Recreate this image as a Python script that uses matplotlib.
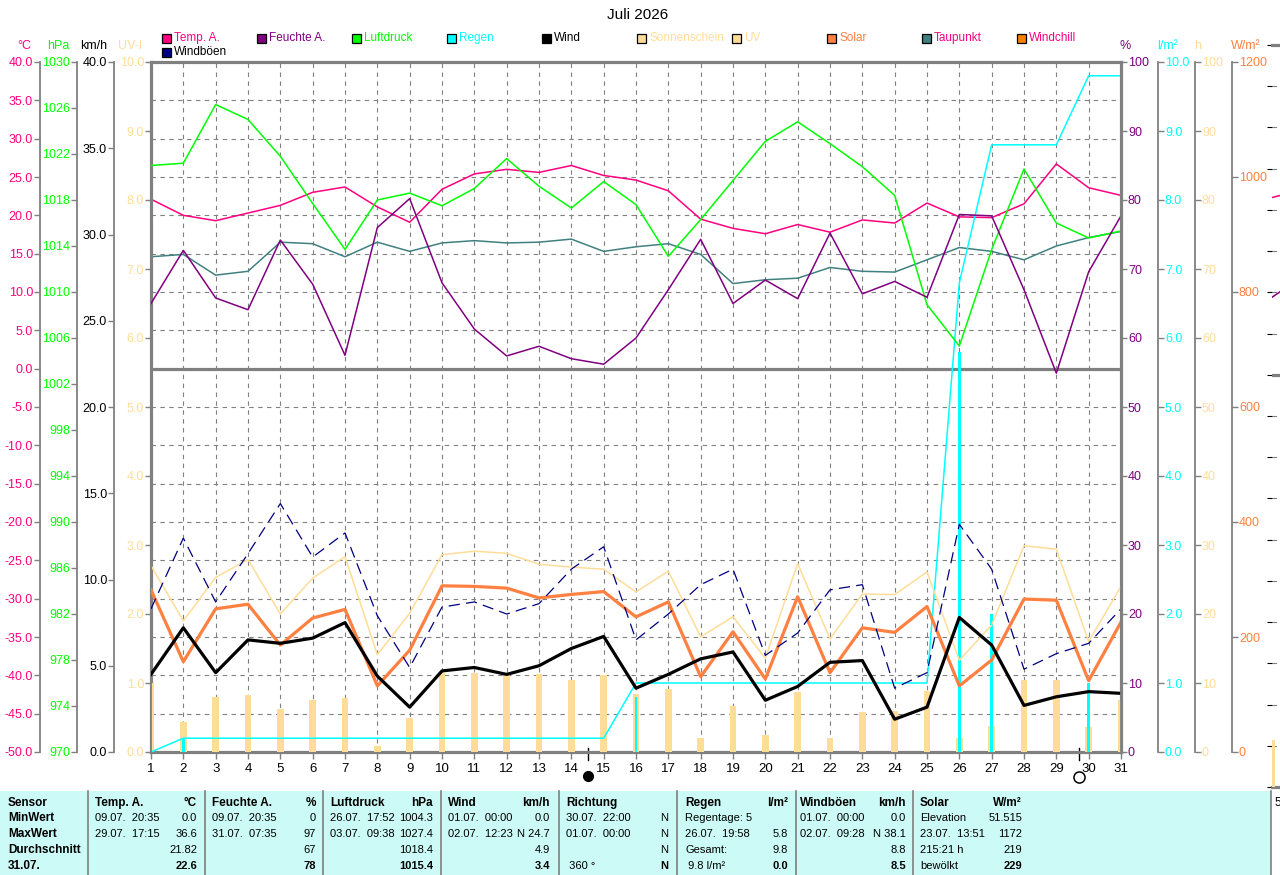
import numpy as np
import matplotlib
matplotlib.use("Agg")
from matplotlib import pyplot as plt
from matplotlib import font_manager
from matplotlib.patches import Rectangle
from matplotlib.lines import Line2D

days = list(range(1, 32))

temp = [22.1, 20.0, 19.3, 20.3, 21.3, 23.0, 23.7, 21.1, 19.1, 23.4, 25.4, 26.0, 25.6, 26.5, 25.2, 24.6,
        23.2, 19.5, 18.3, 17.6, 18.8, 17.8, 19.4, 19.0, 21.6, 19.8, 19.7, 21.5, 26.7, 23.6, 22.6]
dewpoint = [14.6, 14.9, 12.2, 12.7, 16.5, 16.3, 14.6, 16.5, 15.3, 16.4, 16.7, 16.4, 16.5, 16.9, 15.3, 15.9,
            16.3, 14.9, 11.1, 11.6, 11.8, 13.2, 12.7, 12.6, 14.2, 15.8, 15.3, 14.2, 16.0, 17.1, 17.9]
humidity = [65.0, 72.7, 65.8, 64.1, 74.2, 67.8, 57.5, 76.0, 80.2, 68.0, 61.3, 57.4, 58.8, 57.0, 56.2, 60.0,
            67.0, 74.3, 65.0, 68.4, 65.7, 75.2, 66.4, 68.2, 65.9, 77.9, 77.7, 67.0, 54.9, 69.6, 77.7]
pressure = [1021.0, 1021.2, 1026.3, 1025.0, 1021.8, 1017.7, 1013.7, 1018.0, 1018.6, 1017.5, 1019.0,
            1021.6, 1019.2, 1017.3, 1019.6, 1017.6, 1013.1, 1016.3, 1019.7, 1023.1, 1024.8, 1022.9,
            1020.9, 1018.4, 1008.9, 1005.3, 1013.7, 1020.7, 1016.0, 1014.7, 1015.3]
rain_day = [0.0, 0.2, 0.0, 0.0, 0.0, 0.0, 0.0, 0.0, 0.0, 0.0, 0.0, 0.0, 0.0, 0.0, 0.0, 0.8,
            0.0, 0.0, 0.0, 0.0, 0.0, 0.0, 0.0, 0.0, 0.0, 5.8, 2.0, 0.0, 0.0, 1.0, 0.0]
rain_sum = [0.0, 0.2, 0.2, 0.2, 0.2, 0.2, 0.2, 0.2, 0.2, 0.2, 0.2, 0.2, 0.2, 0.2, 0.2, 1.0,
            1.0, 1.0, 1.0, 1.0, 1.0, 1.0, 1.0, 1.0, 1.0, 6.8, 8.8, 8.8, 8.8, 9.8, 9.8]
sunshine = [10.0, 4.4, 7.9, 8.2, 6.3, 7.5, 7.8, 0.8, 5.0, 11.4, 11.5, 11.1, 11.3, 10.4, 11.1, 8.4,
            9.2, 2.0, 6.6, 2.4, 8.7, 2.1, 5.8, 5.9, 8.9, 2.0, 3.8, 10.4, 10.4, 3.6, 7.5]
wind = [4.5, 7.2, 4.6, 6.5, 6.3, 6.6, 7.5, 4.4, 2.6, 4.7, 4.9, 4.5, 5.0, 6.0, 6.7, 3.7,
        4.5, 5.4, 5.8, 3.0, 3.8, 5.2, 5.3, 1.9, 2.6, 7.8, 6.2, 2.7, 3.2, 3.5, 3.4]
gusts = [8.3, 12.4, 8.7, 11.5, 14.4, 11.3, 12.7, 7.9, 4.9, 8.4, 8.7, 8.0, 8.6, 10.6, 11.9, 6.5,
         8.0, 9.7, 10.6, 5.6, 6.9, 9.4, 9.7, 3.7, 4.6, 13.2, 10.6, 4.8, 5.7, 6.3, 8.3]
solar = [282, 157, 249, 257, 186, 233, 248, 115, 177, 289, 288, 285, 268, 274, 279, 235,
         261, 131, 209, 127, 270, 138, 216, 208, 253, 115, 160, 266, 264, 124, 226]
uv = [2.70, 1.90, 2.53, 2.79, 2.00, 2.52, 2.83, 1.41, 2.01, 2.86, 2.91, 2.88, 2.72, 2.68, 2.65, 2.32,
      2.62, 1.67, 1.96, 1.36, 2.73, 1.64, 2.29, 2.28, 2.61, 1.33, 1.84, 2.99, 2.94, 1.60, 2.40]

full_moon_day = 14.5
new_moon_day = 29.7

# start of the next month's chart, cut off at the right border
next_days = [1, 2]
next_temp = [21.5, 22.5]
next_hum = [66, 69]
next_sun = [6.3]

legend_items = [
    ("Temp. A.", "#ff0080", "#ff0080"), ("Feuchte A.", "#800080", "#800080"),
    ("Luftdruck", "#00ff00", "#00ff00"), ("Regen", "#00ffff", "#00ffff"),
    ("Wind", "#000000", "#000000"), ("Sonnenschein", "#ffdd99", "#ffdd99"),
    ("UV", "#ffdd99", "#ffdd99"), ("Solar", "#ff8040", "#ff8040"),
    ("Taupunkt", "#408080", "#ff0080"), ("Windchill", "#ff8000", "#ff0080"),
    ("Windböen", "#000080", "#000000"),
]

row_names = ["Sensor", "MinWert", "MaxWert", "Durchschnitt", "31.07."]
table_cols = [
    (["Temp. A.", "09.07.  20:35", "29.07.  17:15", "", ""], ["°C", "0.0", "36.6", "21.82", "22.6"]),
    (["Feuchte A.", "09.07.  20:35", "31.07.  07:35", "", ""], ["%", "0", "97", "67", "78"]),
    (["Luftdruck", "26.07.  17:52", "03.07.  09:38", "", ""], ["hPa", "1004.3", "1027.4", "1018.4", "1015.4"]),
    (["Wind", "01.07.  00:00", "02.07.  12:23", "", ""], ["km/h", "0.0", "N 24.7", "4.9", "3.4"]),
    (["Richtung", "30.07.  22:00", "01.07.  00:00", "", " 360 °"], ["", "N", "N", "N", "N"]),
    (["Regen", "Regentage: 5", "26.07.  19:58", "Gesamt:", " 9.8 l/m²"], ["l/m²", "", "5.8", "9.8", "0.0"]),
    (["Windböen", "01.07.  00:00", "02.07.  09:28", "", ""], ["km/h", "0.0", "N 38.1", "8.8", "8.5"]),
    (["Solar", "Elevation", "23.07.  13:51", "215:21 h", "bewölkt"], ["W/m²", "51.515", "1172", "219", "229"]),
]

W, H = 1280, 875
GRAY = "#808080"
PT = 0.72  # points per pixel at 100 dpi

installed = {f.name for f in font_manager.fontManager.ttflist}
FONT = "Liberation Sans Narrow" if "Liberation Sans Narrow" in installed else "Liberation Sans"
plt.rcParams["font.family"] = [FONT, "DejaVu Sans"]


def fx(x):
    return x / W


def fy(y):
    return 1 - y / H


def side_axis(host, side, offset, lim, ticks, fmt, color):
    a = host.twinx()
    a.set_ylim(*lim)
    for s in a.spines.values():
        s.set_visible(False)
    sp = a.spines[side]
    sp.set_visible(True)
    sp.set_position(("outward", offset * PT))
    sp.set_color(GRAY)
    sp.set_linewidth(1.3)
    if side == "left":
        a.yaxis.tick_left()
    else:
        a.yaxis.tick_right()
    a.set_yticks(ticks)
    a.set_yticklabels([fmt.format(t) for t in ticks])
    a.tick_params(axis="y", colors=GRAY, labelcolor=color, length=4, width=1, labelsize=9, pad=1)
    return a


fig = plt.figure(figsize=(W / 100, H / 100), dpi=100)
fig.text(fx(638), fy(15), "Juli 2026", ha="center", va="center", fontsize=11)

ax = fig.add_axes([fx(151), fy(752), 970 / W, 690 / H])
ax.set_xlim(1, 31)
ax.set_ylim(-50, 40)
ax.set_xticks(days)
ax.set_yticks(np.arange(-50, 41, 5))
ax.grid(True, color=GRAY, linestyle=(0, (4, 4)), linewidth=0.8)
for s in ax.spines.values():
    s.set_color(GRAY)
    s.set_linewidth(2.3)
ax.axhline(0, color=GRAY, linewidth=2.3)
ax.plot(days, dewpoint, color="#408080", linewidth=1.1)
ax.plot(days, temp, color="#ff0080", linewidth=1.1)

# bars and lines, each on its own scale
a_h = side_axis(ax, "right", 74, (0, 100), list(range(0, 101, 10)), "{:d}", "#ffdd99")
a_h.bar(days, sunshine, width=0.2, color="#ffdd99", zorder=1)

a_rain = side_axis(ax, "right", 37, (0, 10), list(range(0, 11)), "{:.1f}", "#00ffff")
a_rain.bar(days, rain_day, width=0.09, color="#00ffff")
a_rain.plot(days, rain_sum, color="#00ffff", linewidth=1.1)

a_uv = side_axis(ax, "left", 0, (0, 10), list(range(0, 11)), "{:.1f}", "#ffdd99")
a_uv.plot(days, uv, color="#ffdd99", linewidth=1.1)

a_sol = side_axis(ax, "right", 111, (0, 1200), list(range(0, 1201, 200)), "{:d}", "#ff8040")
a_sol.plot(days, solar, color="#ff8040", linewidth=2.3)

a_kmh = side_axis(ax, "left", 37, (0, 40), list(range(0, 41, 5)), "{:.1f}", "#000000")
a_kmh.plot(days, gusts, color="#000080", linewidth=0.9, dashes=(9, 5))
a_kmh.plot(days, wind, color="#000000", linewidth=2.3)

a_hpa = side_axis(ax, "left", 74, (970, 1030), list(range(970, 1031, 4)), "{:d}", "#00ff00")
a_hpa.plot(days, pressure, color="#00ff00", linewidth=1.1)

a_pct = side_axis(ax, "right", 0, (0, 100), list(range(0, 101, 10)), "{:d}", "#800080")
a_pct.plot(days, humidity, color="#800080", linewidth=1.1)

a_c = side_axis(ax, "left", 111, (-50, 40), list(range(-50, 41, 5)), "{:.1f}", "#ff0080")

ax.tick_params(axis="y", left=False, labelleft=False, right=False, labelright=False)
ax.tick_params(axis="x", colors=GRAY, labelcolor="black", length=5, width=1, labelsize=9.5, pad=3)

# moon phases below the axis
xt = ax.get_xaxis_transform()
for d in (full_moon_day, new_moon_day):
    ax.plot([d, d], [0.006, -0.012], color="black", linewidth=1, transform=xt, clip_on=False)
ax.plot([full_moon_day], [-0.035], marker="o", markersize=7, color="black",
        transform=xt, clip_on=False)
ax.plot([new_moon_day], [-0.036], marker="o", markersize=8, markerfacecolor="white",
        markeredgecolor="black", markeredgewidth=1.1, transform=xt, clip_on=False)

# unit captions
for x, txt, col in [(24, "°C", "#ff0080"), (58, "hPa", "#00ff00"), (94, "km/h", "#000000"),
                    (130, "UV-I", "#ffdd99"), (1125, "%", "#800080"), (1167, "l/m²", "#00ffff"),
                    (1198, "h", "#ffdd99"), (1246, "W/m²", "#ff8040")]:
    fig.text(fx(x), fy(46), txt, color=col, ha="center", va="center", fontsize=9)

# legend
for i, (name, sq, tc) in enumerate(legend_items):
    x = 162 + 95 * (i % 10)
    y = 38 + 14 * (i // 10)
    fig.add_artist(Rectangle((fx(x), fy(y + 4.5)), 9 / W, 9 / H, transform=fig.transFigure,
                             facecolor=sq, edgecolor="black", linewidth=0.9))
    fig.text(fx(x + 12), fy(y), name, color=tc, ha="left", va="center", fontsize=8.5)

# cut-off start of the next chart
ax2 = fig.add_axes([fx(1272), fy(787), 970 / W, 742 / H])
ax2.set_xlim(1, 31)
ax2.set_ylim(-50, 40)
ax2.set_yticks(np.arange(-50, 41, 5))
ax2.set_xticks(days)
ax2.grid(True, axis="y", color=GRAY, linestyle=(0, (4, 4)), linewidth=0.8)
ax2.tick_params(left=False, labelleft=False, bottom=False, labelbottom=False)
for s in ax2.spines.values():
    s.set_color(GRAY)
    s.set_linewidth(2.3)
ax2.spines["left"].set_visible(False)
ax2.axhline(0, color=GRAY, linewidth=2.3)
ax2.plot(next_days, next_temp, color="#ff0080", linewidth=1.1)
ax2b = ax2.twinx()
ax2b.set_ylim(0, 100)
ax2b.axis("off")
ax2b.bar(next_days[:1], next_sun, width=0.2, color="#ffdd99")
ax2b.plot(next_days, next_hum, color="#800080", linewidth=1.1)

# statistics table
fig.add_artist(Rectangle((0, 0), fx(1271), 84 / H, transform=fig.transFigure,
                         facecolor="#ccfaf6", edgecolor="none"))
for x in [88, 205, 323, 441, 559, 677, 796, 913, 1271]:
    fig.add_artist(Line2D([fx(x), fx(x)], [fy(791), 0], transform=fig.transFigure,
                          color=GRAY, linewidth=1.2))
fig.text(fx(1274), fy(803), "5", ha="left", va="center", fontsize=8.5)

row_y = [803, 818, 834, 850, 866]
for name, y in zip(row_names, row_y):
    fig.text(fx(8), fy(y), name, ha="left", va="center", fontsize=8.5, fontweight="bold")

col_left = [95, 212, 330, 448, 566, 685, 800, 920]
col_right = [197, 316, 433, 550, 668, 788, 906, 1022]
for (ltxt, rtxt), xl, xr in zip(table_cols, col_left, col_right):
    for r, y in enumerate(row_y):
        wl = "bold" if r == 0 else "normal"
        wr = "bold" if r in (0, 4) else "normal"
        size = 8.5 if r == 0 else 8
        fig.text(fx(xl), fy(y), ltxt[r], ha="left", va="center", fontsize=size, fontweight=wl)
        fig.text(fx(xr), fy(y), rtxt[r], ha="right", va="center", fontsize=size, fontweight=wr)

fig.savefig("out.png", dpi=100)
